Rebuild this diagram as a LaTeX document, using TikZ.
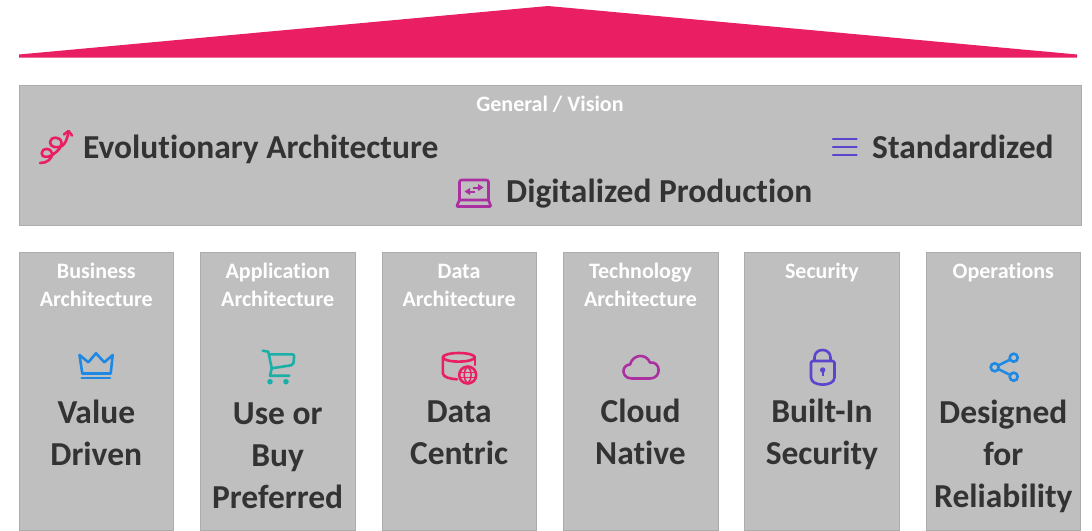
\documentclass[tikz,border=0pt]{standalone}
\usepackage{fontspec}
\setmainfont[Ligatures=NoCommon]{Carlito}
\usetikzlibrary{arrows,positioning}

\definecolor{roofred}{HTML}{E91E63}
\definecolor{panelgray}{HTML}{BFBFBF}
\definecolor{inkgray}{HTML}{333333}
\definecolor{iconblue}{HTML}{1E88E5}
\definecolor{iconteal}{HTML}{1CAFA8}
\definecolor{iconpurple}{HTML}{AB2FA0}
\definecolor{iconviolet}{HTML}{5B45CF}

\tikzset{
    panel/.style={fill=panelgray,draw=panelgray!90!black,line width=.4pt},
    colbox/.style={panel,minimum width=154.6pt,minimum height=278pt,inner sep=0pt,outer sep=0pt},
    coltitle/.style={text=white,font=\fontsize{22}{28}\selectfont\bfseries,align=center,inner sep=0pt,execute at begin node=\strut},
    colvalue/.style={text=inkgray,font=\fontsize{33.5}{42}\selectfont\bfseries,align=center,inner sep=0pt,execute at begin node=\strut},
    mainvalue/.style={text=inkgray,font=\fontsize{33.5}{42}\selectfont\bfseries,inner sep=0pt},
    icon/.style={line width=2.6pt,line cap=round,line join=round,fill=none},
    sharedot/.style={circle,draw=iconblue,line width=2.6pt,minimum size=8pt,inner sep=0pt},
}

\begin{document}
\begin{tikzpicture}[x=1pt,y=-1pt,node distance=26.8pt]
    \useasboundingbox (0,0) rectangle (1092,530);
    \clip (0,0) rectangle (1092,530);

    % roof
    \fill[roofred] (19,54.5) -- (548,6) -- (1077,54.5) -- (1077,57.5) -- (19,57.5) -- cycle;

    % general panel
    \node[panel,minimum width=1062pt,minimum height=140.6pt,inner sep=0pt,outer sep=0pt,anchor=north west] (vision) at (19,85) {};
    \node[coltitle] (visiontitle) at (550,106) {General / Vision};
    \node[mainvalue,anchor=base west] (evolutionary) at (83,158.5) {Evolutionary Architecture};
    \node[mainvalue,anchor=base west] (standardized) at (872,158.5) {Standardized};
    \node[mainvalue,anchor=base west] (digitalized) at (506,202) {Digitalized Production};

    % columns
    \node[colbox,anchor=north west] (business) at (19,252) {};
    \node[colbox,right=of business] (application) {};
    \node[colbox,right=of application] (data) {};
    \node[colbox,right=of data] (technology) {};
    \node[colbox,right=of technology] (security) {};
    \node[colbox,right=of security] (operations) {};

    \node[coltitle,below=11pt of business.north] (businesstitle) {Business\\Architecture};
    \node[coltitle,below=11pt of application.north] (applicationtitle) {Application\\Architecture};
    \node[coltitle,below=12pt of data.north] (datatitle) {Data\\Architecture};
    \node[coltitle,below=11pt of technology.north] (technologytitle) {Technology\\Architecture};
    \node[coltitle,below=7pt of security.north] (securitytitle) {Security};
    \node[coltitle,below=7pt of operations.north] (operationstitle) {Operations};

    \node[colvalue,below=148pt of business.north] (value) {Value\\Driven};
    \node[colvalue,below=150.5pt of application.north] (buy) {Use or\\Buy\\Preferred};
    \node[colvalue,below=149pt of data.north] (centric) {Data\\Centric};
    \node[colvalue,below=147pt of technology.north] (cloud) {Cloud\\Native};
    \node[colvalue,below=147pt of security.north] (builtin) {Built-In\\Security};
    \node[colvalue,below=148pt of operations.north] (reliability) {Designed\\for\\Reliability};

    % spiral
    \draw[icon,roofred] (40,163) .. controls (47,163.5) and (53,158) .. (52,153)
        .. controls (51,147.5) and (42,147.5) .. (41.7,153) .. controls (41.5,158) and (48,158) .. (53,154.5)
        .. controls (58,151) and (62,147) .. (61.5,142.5)
        .. controls (60.5,136) and (50.5,136) .. (50,142) .. controls (50,147.5) and (57,148.5) .. (62,146)
        .. controls (65.5,144) and (67.5,138) .. (68.5,132);
    \draw[icon,roofred] (64,134.5) -- (68.5,131) -- (72,135.5);

    % bars
    \draw[icon,iconviolet] (833,139) -- (856.5,139);
    \draw[icon,iconviolet] (833,147) -- (856.5,147);
    \draw[icon,iconviolet] (833,155) -- (856.5,155);

    % laptop
    \draw[icon,iconpurple,rounded corners=2pt] (459.5,200) -- (459.5,180) -- (488.5,180) -- (488.5,200);
    \draw[icon,iconpurple,rounded corners=1pt] (459.5,200) -- (488.5,200) -- (491,206.5) -- (456.5,206.5) -- cycle;
    \draw[iconpurple,line width=2pt] (473,187.5) -- (480,187.5);
    \fill[iconpurple] (478,184) -- (483.5,187.5) -- (478,191) -- cycle;
    \draw[iconpurple,line width=2pt] (475,191.5) -- (468,191.5);
    \fill[iconpurple] (470,188) -- (464.5,191.5) -- (470,195) -- cycle;

    % crown
    \draw[icon,iconblue] (79.5,355) -- (82.3,373.5) -- (110.7,373.5) -- (112.7,355) -- (104.3,362.3) -- (96,353.3) -- (88.3,362.3) -- cycle;
    \draw[icon,iconblue] (81.7,378) -- (110,378);

    % cart
    \draw[icon,iconteal] (262.7,350.7) -- (268.3,351.7) -- (271.7,368.3) -- (270,375.7) -- (289.3,375.7);
    \draw[icon,iconteal,rounded corners=2pt] (269,354.3) -- (294.3,354.3) -- (293.3,365) -- (271.7,368.3);
    \fill[iconteal] (270,381.7) circle (2.8) (286,381.7) circle (2.8);

    % cylinder
    \draw[icon,roofred] (458.8,357.3) ellipse (16 and 4.3);
    \draw[icon,roofred] (442.8,357.3) -- (442.8,373) .. controls (442.8,377) and (450,379) .. (457,379.3);
    \draw[icon,roofred] (474.8,357.3) -- (474.8,365);
    \draw[icon,roofred] (467.7,375) circle (8.5);
    \draw[roofred,line width=1.5pt] (467.7,366.5) .. controls (463,370) and (463,380) .. (467.7,383.5)
        .. controls (472.4,380) and (472.4,370) .. (467.7,366.5);
    \draw[roofred,line width=1.5pt] (460,372.5) -- (475.5,372.5) (460,377.5) -- (475.5,377.5);

    % cloud
    \draw[icon,iconpurple] (632,378.5) .. controls (621,378.5) and (621,365) .. (630,364.5)
        .. controls (633,354) and (646,353) .. (650,362.5)
        .. controls (661,361) and (662,378.5) .. (650,378.5) -- cycle;

    % lock
    \draw[icon,iconviolet] (814.5,360) -- (814.5,357.5) .. controls (814.5,347.5) and (830.5,347.5) .. (830.5,357.5) -- (830.5,360);
    \draw[icon,iconviolet,rounded corners=1.5pt] (811,361) -- (834.5,361) -- (834.5,376) .. controls (834.5,387) and (811,387) .. (811,376) -- cycle;
    \fill[iconviolet] (822.7,370) circle (2.7);
    \draw[iconviolet,line width=2.2pt] (822.7,370) -- (822.7,375.5);

    % share
    \node[sharedot] (sharel) at (994.7,367.3) {};
    \node[sharedot] (sharet) at (1013.7,357.7) {};
    \node[sharedot] (shareb) at (1013.7,376.7) {};
    \draw[icon,iconblue] (sharel) -- (sharet);
    \draw[icon,iconblue] (sharel) -- (shareb);
\end{tikzpicture}
\end{document}
